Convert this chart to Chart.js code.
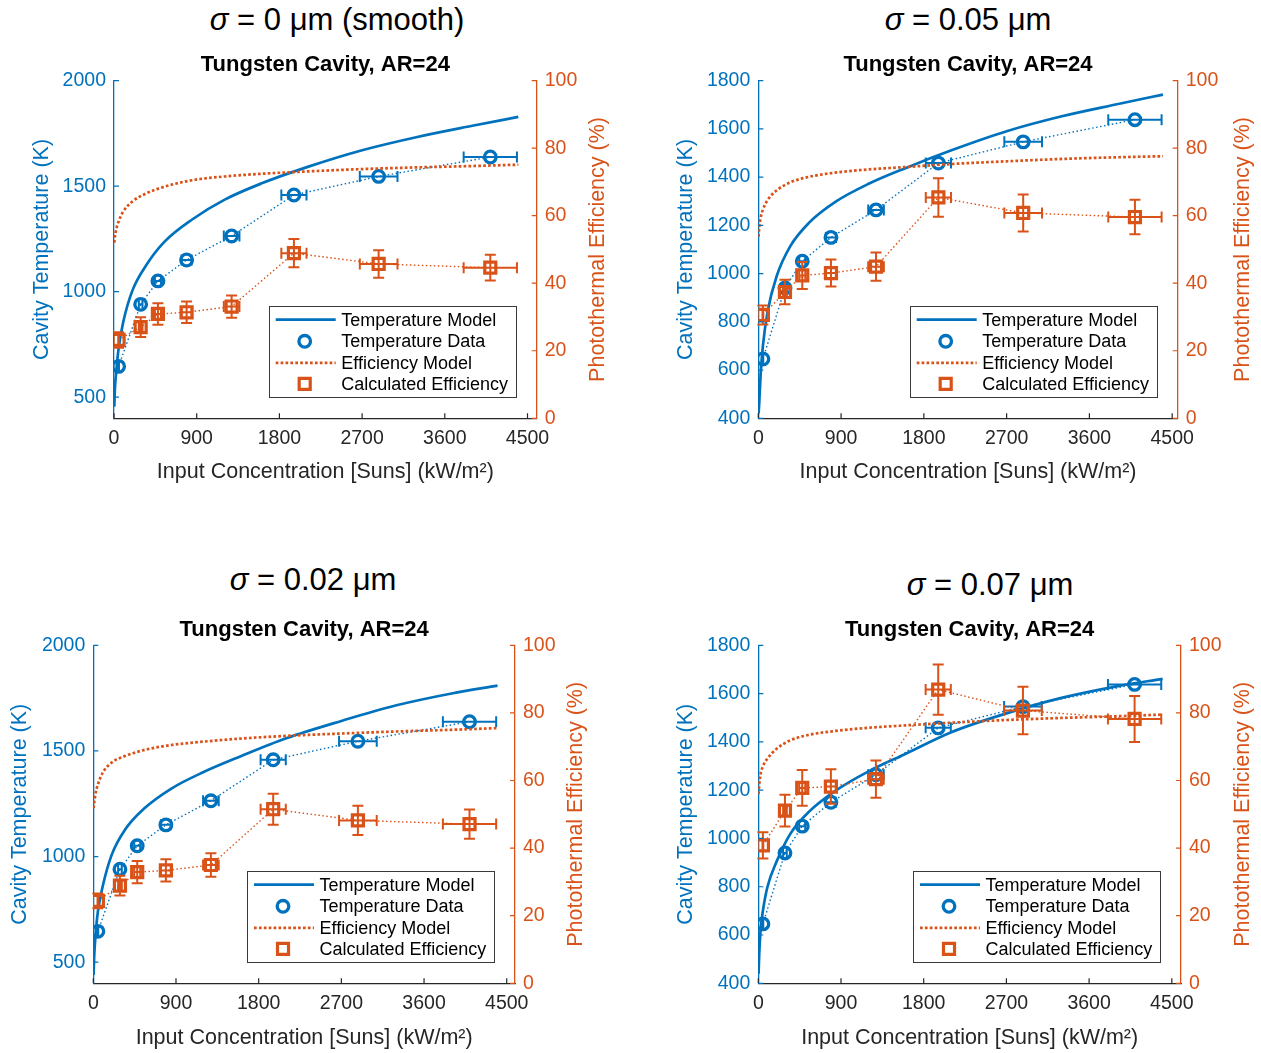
<!DOCTYPE html>
<html>
<head>
<meta charset="utf-8">
<script src="https://cdn.jsdelivr.net/npm/chart.js@4.4.1/dist/chart.umd.min.js"></script>
<style>
  html, body { margin: 0; padding: 0; background: #fff; }
  body { width: 1261px; height: 1053px; position: relative; overflow: hidden; font-family: 'Liberation Sans', Arial, sans-serif; }
  canvas { position: absolute; }
  .sigma { position: absolute; font-size: 31px; color: #000; white-space: nowrap; transform: translate(-50%, -50%); }
</style>
</head>
<body>
<div class="sigma" style="left:337px;top:20px"><i>σ</i> = 0 μm (smooth)</div>
<div class="sigma" style="left:968px;top:20px"><i>σ</i> = 0.05 μm</div>
<div class="sigma" style="left:313px;top:580px"><i>σ</i> = 0.02 μm</div>
<div class="sigma" style="left:990px;top:585px"><i>σ</i> = 0.07 μm</div>

<canvas id="c1" width="630" height="510" style="left:0;top:0"></canvas>
<canvas id="c2" width="631" height="510" style="left:630px;top:0"></canvas>
<canvas id="c3" width="630" height="543" style="left:0;top:510px"></canvas>
<canvas id="c4" width="631" height="543" style="left:630px;top:510px"></canvas>

<script>
const BLUE = '#0072BD';
const ORANGE = '#D95319';
const AXIS = '#262626';
const FONT = "'Liberation Sans', Arial, sans-serif";

// measured points (input concentration, suns)
const concData = [50, 290, 478, 790, 1280, 1958, 2880, 4095];
const concErr = [4, 20, 33, 55, 85, 137, 205, 290];
const tempData = [646, 940, 1051, 1150, 1264, 1458, 1546, 1638];

// efficiency data per roughness
const effDataS0 = [23.2, 27.0, 30.9, 31.4, 33.1, 48.9, 45.7, 44.6];
const effErrS0 = [2.3, 2.9, 3.2, 3.2, 3.3, 4.2, 4.1, 3.8];
const effDataS005 = [30.6, 37.4, 42.3, 43.0, 44.9, 65.4, 60.8, 59.6];
const effErrS005 = [2.8, 3.6, 4.0, 4.0, 4.2, 5.7, 5.5, 5.1];
const effDataS002 = [24.4, 28.9, 32.9, 33.4, 35.0, 51.5, 48.2, 47.1];
const effErrS002 = [2.2, 2.9, 3.3, 3.3, 3.5, 4.6, 4.35, 4.3];
const effDataS007 = [40.8, 51.1, 57.8, 58.2, 60.4, 86.9, 80.7, 78.2];
const effErrS007 = [3.9, 4.7, 5.3, 5.1, 5.5, 7.45, 7.0, 6.8];

// model curves
const modelConc = [3, 10, 25, 50, 100, 200, 350, 550, 850, 1200, 1600, 2100, 2700, 3300, 3900, 4400];
const tempModelS0 = [455, 540, 625, 730, 855, 1005, 1125, 1237, 1342, 1435, 1512, 1590, 1670, 1733, 1786, 1828];
const effModelS0 = [52.0, 53.8, 56.0, 58.3, 61.2, 64.2, 66.6, 68.6, 70.5, 71.6, 72.4, 73.1, 73.8, 74.3, 74.7, 75.1];
const tempModelS005 = [420, 462, 580, 700, 840, 990, 1115, 1210, 1300, 1372, 1437, 1511, 1590, 1652, 1702, 1742];
const effModelS005 = [53.8, 56.5, 59.3, 61.8, 64.6, 67.5, 69.9, 71.5, 72.8, 73.7, 74.4, 75.3, 76.1, 76.8, 77.3, 77.6];
const tempModelS002 = [440, 530, 630, 740, 855, 1008, 1130, 1226, 1322, 1400, 1474, 1560, 1642, 1716, 1772, 1809];
const effModelS002 = [51.8, 53.5, 56.2, 58.8, 62.2, 65.3, 67.3, 69.0, 70.5, 71.5, 72.4, 73.2, 73.9, 74.5, 75.0, 75.5];
const tempModelS007 = [440, 520, 620, 700, 800, 905, 1020, 1110, 1200, 1278, 1350, 1440, 1518, 1582, 1630, 1661];
const effModelS007 = [56.0, 58.8, 61.9, 64.2, 66.5, 69.4, 71.9, 73.5, 74.7, 75.6, 76.3, 77.1, 77.9, 78.5, 79.0, 79.5];

// tick labels
const concTicks = [0, 900, 1800, 2700, 3600, 4500];
const tempTicksWide = [500, 1000, 1500, 2000];
const tempTicksNarrow = [400, 600, 800, 1000, 1200, 1400, 1600, 1800];
const effTicks = [0, 20, 40, 60, 80, 100];

const legendLabels = ['Temperature Model', 'Temperature Data', 'Efficiency Model', 'Calculated Efficiency'];

const pts = (xs, ys) => xs.map((x, i) => ({ x, y: ys[i] }));
const plain = v => String(v);

const CAP = 5.5;

const decor = {
  id: 'decor',
  afterDatasetDraw(chart, args) {
    const ds = chart.data.datasets[args.index];
    if (!ds.errX && !ds.errY) return;
    const xs = chart.scales.x, ys = chart.scales[ds.yAxisID];
    const ctx = chart.ctx;
    ctx.save();
    ctx.strokeStyle = ds.borderColor;
    ctx.lineWidth = 2;
    ctx.setLineDash([]);
    ds.data.forEach((d, i) => {
      const px = xs.getPixelForValue(d.x), py = ys.getPixelForValue(d.y);
      ctx.beginPath();
      if (ds.errX) {
        const x0 = xs.getPixelForValue(d.x - ds.errX[i]);
        const x1 = xs.getPixelForValue(d.x + ds.errX[i]);
        ctx.moveTo(x0, py); ctx.lineTo(x1, py);
        ctx.moveTo(x0, py - CAP); ctx.lineTo(x0, py + CAP);
        ctx.moveTo(x1, py - CAP); ctx.lineTo(x1, py + CAP);
      }
      if (ds.errY) {
        const y0 = ys.getPixelForValue(d.y - ds.errY[i]);
        const y1 = ys.getPixelForValue(d.y + ds.errY[i]);
        ctx.moveTo(px, y0); ctx.lineTo(px, y1);
        ctx.moveTo(px - CAP, y0); ctx.lineTo(px + CAP, y0);
        ctx.moveTo(px - CAP, y1); ctx.lineTo(px + CAP, y1);
      }
      ctx.stroke();
    });
    ctx.restore();
  },
  afterDraw(chart, args, opts) {
    const { ctx, chartArea: a } = chart;
    const sx = chart.scales.x, sT = chart.scales.yT, sE = chart.scales.yE;
    ctx.save();
    ctx.setLineDash([]);
    ctx.lineWidth = 1.2;
    // inward ticks
    ctx.strokeStyle = AXIS;
    ctx.beginPath();
    sx.ticks.forEach(t => { const p = sx.getPixelForValue(t.value); ctx.moveTo(p, a.bottom); ctx.lineTo(p, a.bottom - 5); });
    ctx.stroke();
    ctx.strokeStyle = BLUE;
    ctx.beginPath();
    sT.ticks.forEach(t => { const p = sT.getPixelForValue(t.value); ctx.moveTo(a.left, p); ctx.lineTo(a.left + 5, p); });
    ctx.stroke();
    ctx.strokeStyle = ORANGE;
    ctx.beginPath();
    sE.ticks.forEach(t => { const p = sE.getPixelForValue(t.value); ctx.moveTo(a.right, p); ctx.lineTo(a.right - 5, p); });
    ctx.stroke();

    // right axis title, reading upward like MATLAB
    ctx.save();
    ctx.translate(opts.rightTitleX, (a.top + a.bottom) / 2);
    ctx.rotate(-Math.PI / 2);
    ctx.fillStyle = ORANGE;
    ctx.font = '21.5px ' + FONT;
    ctx.textAlign = 'center';
    ctx.textBaseline = 'middle';
    ctx.fillText('Photothermal Efficiency (%)', 0, 0);
    ctx.restore();

    // legend box
    const W = 247, H = 91;
    const L = a.right - 21 - W, T = a.bottom - 21 - H;
    ctx.fillStyle = '#fff';
    ctx.fillRect(L, T, W, H);
    ctx.strokeStyle = '#3a3a3a';
    ctx.lineWidth = 1;
    ctx.strokeRect(Math.round(L) + 0.5, Math.round(T) + 0.5, W, H);
    const rows = [13.3, 35, 56.6, 77.6];
    chart.data.datasets.forEach((ds, i) => {
      const y = T + rows[i];
      ctx.strokeStyle = ds.borderColor;
      if (ds.pointRadius > 0) {
        ctx.lineWidth = ds.pointBorderWidth;
        ctx.setLineDash([]);
        ctx.beginPath();
        if (ds.pointStyle === 'rect') {
          const h = ds.pointRadius * Math.SQRT1_2;
          ctx.rect(L + 36 - h, y - h, 2 * h, 2 * h);
        } else {
          ctx.arc(L + 36, y, ds.pointRadius, 0, Math.PI * 2);
        }
        ctx.stroke();
      } else {
        ctx.lineWidth = ds.borderWidth;
        ctx.setLineDash(ds.borderDash || []);
        ctx.beginPath();
        ctx.moveTo(L + 7, y);
        ctx.lineTo(L + 67, y);
        ctx.stroke();
      }
      ctx.setLineDash([]);
      ctx.fillStyle = '#000';
      ctx.font = '18px ' + FONT;
      ctx.textAlign = 'left';
      ctx.textBaseline = 'middle';
      ctx.fillText(legendLabels[i], L + 72.5, y + 1);
    });
    ctx.restore();
  }
};

const panels = [
  { id: 'c1', tempModel: tempModelS0, effModel: effModelS0, eff: effDataS0, effErr: effErrS0,
    tMax: 2000, tTicks: tempTicksWide, xMax: 4600,
    leftW: 114, rightW: 93.3, xH: 91.7, xTitlePad: 25.1, yTitlePad: 29.1, titleTop: 52.1, titleBottom: 3.1, rightTitleX: 598 },
  { id: 'c2', tempModel: tempModelS005, effModel: effModelS005, eff: effDataS005, effErr: effErrS005,
    tMax: 1800, tTicks: tempTicksNarrow, xMax: 4560,
    leftW: 128.3, rightW: 83.3, xH: 91.7, xTitlePad: 25.1, yTitlePad: 43.1, titleTop: 52.1, titleBottom: 3.1, rightTitleX: 613 },
  { id: 'c3', tempModel: tempModelS002, effModel: effModelS002, eff: effDataS002, effErr: effErrS002,
    tMax: 2000, tTicks: tempTicksWide, xMax: 4590,
    leftW: 93.3, rightW: 115, xH: 69.7, xTitlePad: 2.1, yTitlePad: 7.1, titleTop: 107.1, titleBottom: 2.8, rightTitleX: 576.5 },
  { id: 'c4', tempModel: tempModelS007, effModel: effModelS007, eff: effDataS007, effErr: effErrS007,
    tMax: 1800, tTicks: tempTicksNarrow, xMax: 4600,
    leftW: 128.3, rightW: 80, xH: 69.7, xTitlePad: 2.1, yTitlePad: 43.1, titleTop: 107.1, titleBottom: 2.8, rightTitleX: 613 }
];

Chart.defaults.font.family = FONT;

function makeChart(p) {
  return new Chart(document.getElementById(p.id), {
    type: 'line',
    data: {
      datasets: [
        { label: legendLabels[0], data: pts(modelConc, p.tempModel), yAxisID: 'yT',
          borderColor: BLUE, borderWidth: 2.7, pointRadius: 0, tension: 0.4, cubicInterpolationMode: 'monotone', order: 3 },
        { label: legendLabels[1], data: pts(concData, tempData), yAxisID: 'yT',
          borderColor: BLUE, borderWidth: 1.4, borderDash: [1.5, 2.5], pointStyle: 'circle', pointRadius: 5.8,
          pointBorderWidth: 3.3, pointBorderColor: BLUE, pointBackgroundColor: 'rgba(0,0,0,0)', errX: concErr, order: 2 },
        { label: legendLabels[2], data: pts(modelConc, p.effModel), yAxisID: 'yE',
          borderColor: ORANGE, borderWidth: 2.7, borderDash: [2.7, 2.2], pointRadius: 0, tension: 0.4, cubicInterpolationMode: 'monotone', order: 1 },
        { label: legendLabels[3], data: pts(concData, p.eff), yAxisID: 'yE',
          borderColor: ORANGE, borderWidth: 1.4, borderDash: [1.5, 2.5], pointStyle: 'rect', pointRadius: 7.8,
          pointBorderWidth: 3.2, pointBorderColor: ORANGE, pointBackgroundColor: 'rgba(0,0,0,0)', errX: concErr, errY: p.effErr, order: 0 }
      ]
    },
    options: {
      responsive: false,
      animation: false,
      events: [],
      layout: { padding: 0 },
      plugins: {
        legend: { display: false },
        tooltip: { enabled: false },
        title: {
          display: true, text: 'Tungsten Cavity, AR=24', fullSize: false, color: '#000',
          font: { size: 22, weight: 'bold' }, padding: { top: p.titleTop - 0.5, bottom: p.titleBottom - 0.5 }
        },
        decor: { rightTitleX: p.rightTitleX }
      },
      scales: {
        x: {
          type: 'linear', min: 0, max: p.xMax,
          afterBuildTicks: s => { s.ticks = concTicks.map(v => ({ value: v })); },
          afterFit: s => { s.height = p.xH; },
          grid: { display: false, drawTicks: false },
          border: { display: true, color: AXIS, width: 1.3 },
          ticks: { color: AXIS, font: { size: 19.5 }, padding: 9, maxRotation: 0, autoSkip: false, callback: plain },
          title: { display: true, text: 'Input Concentration [Suns] (kW/m²)', color: AXIS, font: { size: 21.5 },
            padding: { top: 0, bottom: p.xTitlePad } }
        },
        yT: {
          type: 'linear', position: 'left', min: 400, max: p.tMax,
          afterBuildTicks: s => { s.ticks = p.tTicks.map(v => ({ value: v })); },
          afterFit: s => { s.width = p.leftW; },
          grid: { display: false, drawTicks: false },
          border: { display: true, color: BLUE, width: 1.3 },
          ticks: { color: BLUE, font: { size: 19.5 }, padding: 8, callback: plain },
          title: { display: true, text: 'Cavity Temperature (K)', color: BLUE, font: { size: 21.5 },
            padding: { top: p.yTitlePad, bottom: 0 } }
        },
        yE: {
          type: 'linear', position: 'right', min: 0, max: 100,
          afterBuildTicks: s => { s.ticks = effTicks.map(v => ({ value: v })); },
          afterFit: s => { s.width = p.rightW; },
          grid: { display: false, drawTicks: false },
          border: { display: true, color: ORANGE, width: 1.3 },
          ticks: { color: ORANGE, font: { size: 19.5 }, padding: 8, callback: plain }
        }
      }
    },
    plugins: [decor]
  });
}

panels.forEach(makeChart);
</script>
</body>
</html>
